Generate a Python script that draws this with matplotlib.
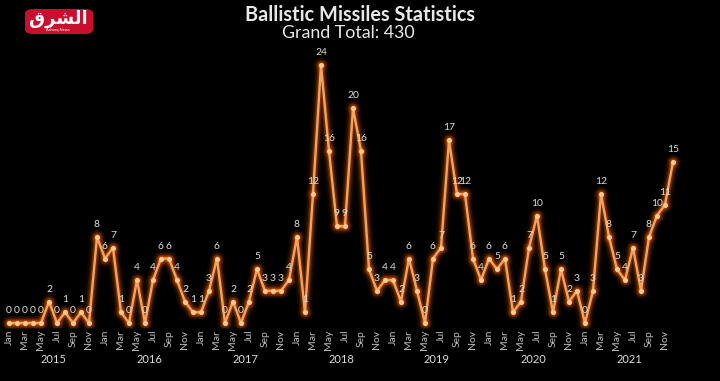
import numpy as np
import matplotlib.pyplot as plt
from matplotlib.patches import FancyBboxPatch

# monthly counts, Jan 2015 .. Dec 2021
years = ['2015', '2016', '2017', '2018', '2019', '2020', '2021']
months = ['Jan', 'Feb', 'Mar', 'Apr', 'May', 'Jun',
          'Jul', 'Aug', 'Sep', 'Oct', 'Nov', 'Dec']
counts = [0, 0, 0, 0, 0, 2, 0, 1, 0, 1, 0, 8,
          6, 7, 1, 0, 4, 0, 4, 6, 6, 4, 2, 1,
          1, 3, 6, 0, 2, 0, 2, 5, 3, 3, 3, 4,
          8, 1, 12, 24, 16, 9, 9, 20, 16, 5, 3, 4,
          4, 2, 6, 3, 0, 6, 7, 17, 12, 12, 6, 4,
          6, 5, 6, 1, 2, 7, 10, 5, 1, 5, 2, 3,
          0, 3, 12, 8, 5, 4, 7, 3, 8, 10, 11, 15]
title = 'Ballistic Missiles Statistics'
subtitle = 'Grand Total: 430'

plt.rcParams['font.family'] = ['Lato', 'DejaVu Sans']

fig = plt.figure(figsize=(7.2, 3.81), dpi=100, facecolor='black')
ax = fig.add_axes([0, 0.138, 1, 0.776])
ax.set_facecolor('black')

x = np.arange(len(counts))
y = np.array(counts)

# glow
for lw, a in [(10, 0.06), (7, 0.10), (5, 0.16), (3.4, 0.25)]:
    ax.plot(x, y, color='#ff6a00', lw=lw, alpha=a, solid_capstyle='round',
            solid_joinstyle='round')
    ax.plot(x, y, 'o', color='#ff6a00', ms=lw + 2, alpha=a * 0.8, mec='none')
ax.plot(x, y, color='#f6a25e', lw=1.7, solid_joinstyle='round')
ax.plot(x, y, 'o', color='#ffc997', ms=3.6, mec='none')

for xi, yi in zip(x, y):
    ax.annotate(str(yi), (xi, yi), xytext=(0, 9), textcoords='offset points',
                ha='center', va='center', fontsize=7.5, color='#d9d9d9')

ax.set_xlim(-9 / 8, 711 / 8)
ax.set_ylim(-0.5, 27)
ax.set_xticks(x[::2])
ax.set_xticklabels([months[i % 12] for i in x[::2]], rotation=90,
                   fontsize=7.5, color='#bdbdbd')
ax.tick_params(axis='x', length=0, pad=1)
ax.set_yticks([])
for s in ax.spines.values():
    s.set_visible(False)

for i, yr in enumerate(years):
    ax.text(12 * i + 5.5, -0.1035, yr, transform=ax.get_xaxis_transform(),
            ha='center', va='center', fontsize=8, color='#d9d9d9')

fig.text(0.5, 0.961, title, ha='center', va='center', fontsize=14.3,
         fontweight='bold', color='#e8e8e8')
fig.text(0.484, 0.914, subtitle, ha='center', va='center', fontsize=12.8,
         color='#e8e8e8')

# logo
logo = FancyBboxPatch((25 / 720, 1 - 34 / 381), 68 / 720, 25 / 381,
                      boxstyle='round,pad=0,rounding_size=0.012',
                      transform=fig.transFigure, fc='#c8102e', ec='none')
fig.patches.append(logo)
fig.text(58 / 720, 1 - 19 / 381, '\uFED5\uFEAE\uFEB8\uFEDF\uFE8D',
         family='DejaVu Sans', ha='center', va='center', fontsize=13,
         fontweight='bold', color='white')
fig.text(58 / 720, 1 - 29.5 / 381, 'Asharq News', ha='center', va='center',
         fontsize=3, color='white')

fig.savefig('out.png', dpi=100, facecolor='black')
